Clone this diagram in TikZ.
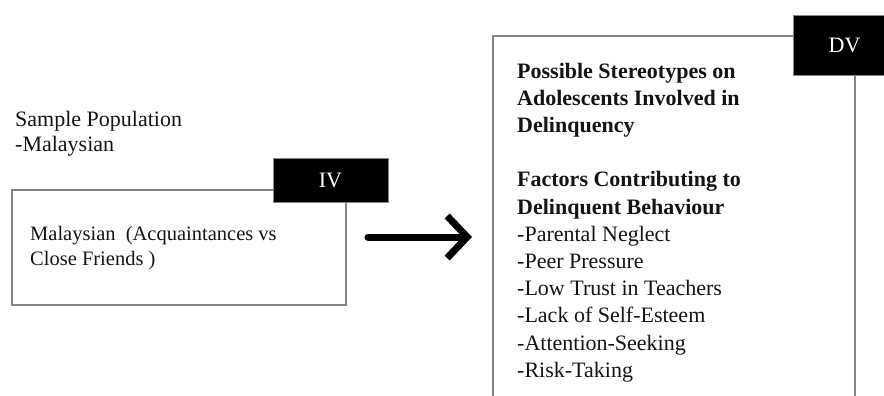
\documentclass[tikz,border=0pt]{standalone}
\usepackage{fontspec}
\setmainfont{Liberation Serif}
\usetikzlibrary{arrows.meta}
\definecolor{boxgray}{RGB}{125,138,125}
\definecolor{txt}{RGB}{20,20,20}
\begin{document}
\begin{tikzpicture}[x=1pt,y=-1pt,
  frame/.style={draw=boxgray,line width=2pt},
  tag/.style={fill=black,draw=boxgray,line width=1pt,text=white,font=\fontsize{22}{26}\selectfont},
  lbl/.style={anchor=base west,inner sep=0pt,text=txt,font=\fontsize{22}{27}\selectfont},
  lblb/.style={lbl,font=\fontsize{22}{27}\selectfont\bfseries},
  lbls/.style={anchor=base west,inner sep=0pt,text=txt,font=\fontsize{20.5}{26}\selectfont},
  bigarrow/.style={-{Straight Barb[length=20pt,width=42pt]},line width=7pt,line cap=round,line join=round}]
\useasboundingbox (0,0) rectangle (884,396);
% sample population
\node[lbl] (sp1) at (15,126) {Sample Population};
\node[lbl] (sp2) at (15,151) {-Malaysian};
% IV box
\node[frame,inner sep=0pt,minimum width=334pt,minimum height=115pt] (ivbox) at (179,247.5) {};
\node[tag,minimum width=115pt,minimum height=44pt,inner sep=0pt] (iv) at (330.5,180) {IV};
\node[lbls] (m1) at (30,240) {Malaysian \ (Acquaintances vs};
\node[lbls] (m2) at (30,265) {Close Friends )};
% arrow
\coordinate (a1) at (368,237);
\coordinate (a2) at (472,237);
\draw[bigarrow] (a1) -- (a2);
% DV box
\draw[frame] (493,400) -- (493,36) -- (855,36) -- (855,400);
\node[tag,minimum width=104pt,minimum height=60pt,inner sep=0pt,anchor=north west] (dv) at (793,15) {\hspace*{-2pt}DV};
\node[lblb] (d1) at (517,78) {Possible Stereotypes on};
\node[lblb] (d2) at (517,105.2) {Adolescents Involved in};
\node[lblb] (d3) at (517,132.4) {Delinquency};
\node[lblb] (d4) at (517,186.8) {Factors Contributing to};
\node[lblb] (d5) at (517,214) {Delinquent Behaviour};
\node[lbl] (d6) at (517,241.2) {-Parental Neglect};
\node[lbl] (d7) at (517,268.4) {-Peer Pressure};
\node[lbl] (d8) at (517,295.6) {-Low Trust in Teachers};
\node[lbl] (d9) at (517,322.8) {-Lack of Self-Esteem};
\node[lbl] (d10) at (517,350) {-Attention-Seeking};
\node[lbl] (d11) at (517,377.2) {-Risk-Taking};
\end{tikzpicture}
\end{document}
